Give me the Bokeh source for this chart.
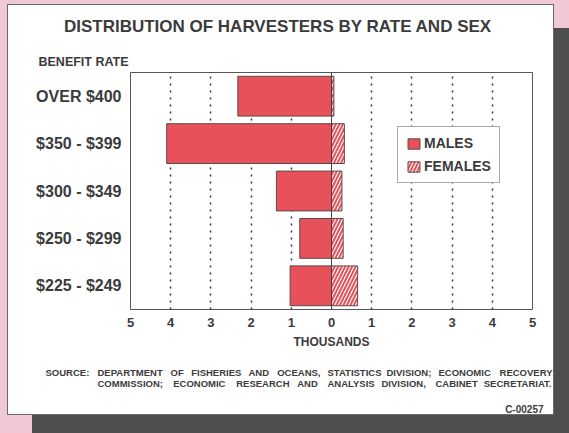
from bokeh.plotting import figure
from bokeh.models import (FactorRange, Range1d, FixedTicker, Span, Legend, LegendItem,
                          ColumnDataSource, GlobalInlineStyleSheet, Spacer)
from bokeh.core.properties import value
from bokeh.embed import file_html
from bokeh.resources import INLINE

# ---------------- data ----------------
categories = ["OVER $400", "$350 - $399", "$300 - $349", "$250 - $299", "$225 - $249"]
males = [2.33, 4.10, 1.37, 0.79, 1.03]          # thousands
females = [0.06, 0.32, 0.26, 0.29, 0.65]        # thousands
x_ticks = [-5, -4, -3, -2, -1, 0, 1, 2, 3, 4, 5]
x_tick_labels = ["5", "4", "3", "2", "1", "0", "1", "2", "3", "4", "5"]
grid_ticks = [-4, -3, -2, -1, 1, 2, 3, 4]

title_text = "DISTRIBUTION OF HARVESTERS BY RATE AND SEX"
y_title = "BENEFIT  RATE"
x_title = "THOUSANDS"
source_label = "SOURCE:"
source_line1 = ["DEPARTMENT", "OF", "FISHERIES", "AND", "OCEANS,", "STATISTICS",
                "DIVISION;", "ECONOMIC", "RECOVERY"]
source_line2 = ["COMMISSION;", "ECONOMIC", "RESEARCH", "AND", "ANALYSIS", "DIVISION,",
                "CABINET", "SECRETARIAT."]
chart_id = "C-00257"

# ---------------- style ----------------
FONT = "Liberation Sans"
TXT = "#3b3b3b"
RED = "#e8505a"
EDGE = "#5a4c4c"
PINK = "#f0c8d6"
SHADOW = "#4c4f4e"
CARD_L, CARD_T, CARD_W, CARD_H = 8, 5, 545, 409


def place(left, top):
    return {"position": "absolute", "left": "%dpx" % left, "top": "%dpx" % top}


# card with drop shadow (behind everything)
card = Spacer(width=CARD_W, height=CARD_H,
              styles=dict(place(CARD_L, CARD_T),
                          **{"background-color": "white",
                             "outline": "1px solid #6a6a6a",
                             "box-shadow": "22px 21px 0 -2px %s" % SHADOW}))
card.stylesheets = [GlobalInlineStyleSheet(
    css="html, body {margin:0 !important; padding:0; overflow:hidden; background:%s;}" % PINK)]


def text_panel(height, y_top):
    f = figure(width=CARD_W, height=height, x_range=Range1d(CARD_L, CARD_L + CARD_W),
               y_range=Range1d(y_top + height, y_top), x_axis_type=None, y_axis_type=None,
               output_backend="svg", toolbar_location=None, min_border=0,
               min_border_left=0, min_border_right=0, min_border_top=0, min_border_bottom=0)
    f.outline_line_color = None
    f.background_fill_color = None
    f.border_fill_color = None
    f.title.visible = False
    f.styles = place(CARD_L, y_top)
    return f


def put(f, words, xs, ys, size, align):
    src = ColumnDataSource(dict(x=xs, y=ys, t=words))
    f.text(x="x", y="y", text="t", source=src, text_font=value(FONT),
           text_font_style="bold", text_font_size=value(size), text_color=TXT,
           text_align=align, text_baseline="alphabetic")


# ---------------- header ----------------
head = text_panel(66, 5)
put(head, [title_text], [277.5], [25.8], "17px", "center")
put(head, [y_title], [38], [61.4], "12.5px", "left")

# ---------------- main chart ----------------
p = figure(width=CARD_W, height=288,
           y_range=FactorRange(factors=categories[::-1]),
           x_range=Range1d(-5, 5),
           output_backend="svg", toolbar_location=None,
           min_border_left=122, min_border_right=21,
           min_border_top=5, min_border_bottom=46)
p.styles = place(CARD_L, 67)
p.title.visible = False
p.border_fill_color = None
p.background_fill_color = "white"
p.outline_line_color = "#555555"
p.outline_line_width = 1

src_m = ColumnDataSource(dict(y=categories, left=[-v for v in males], right=[0] * len(males)))
src_f = ColumnDataSource(dict(y=categories, left=[0] * len(females), right=females))
rm = p.hbar(y="y", left="left", right="right", height=0.84, source=src_m,
            fill_color=RED, line_color=EDGE, line_width=1)
rf = p.hbar(y="y", left="left", right="right", height=0.84, source=src_f,
            fill_color="white", line_color=EDGE, line_width=1,
            hatch_pattern="/", hatch_color=RED, hatch_weight=2, hatch_scale=7)

p.add_layout(Span(location=0, dimension="height", line_color="#444444", line_width=1))

p.ygrid.grid_line_color = None
p.xgrid.ticker = FixedTicker(ticks=grid_ticks)
p.xgrid.grid_line_color = "#333333"
p.xgrid.grid_line_dash = "2 5"
p.xgrid.grid_line_width = 1.5

xa = p.xaxis[0]
xa.ticker = FixedTicker(ticks=x_ticks)
xa.major_label_overrides = dict(zip(x_ticks, x_tick_labels))
xa.axis_line_color = None
xa.major_tick_line_color = None
xa.minor_tick_line_color = None
xa.major_label_standoff = 2
xa.major_label_text_font = FONT
xa.major_label_text_font_style = "bold"
xa.major_label_text_font_size = "13px"
xa.major_label_text_color = TXT
xa.axis_label = x_title
xa.axis_label_text_font = FONT
xa.axis_label_text_font_style = "bold"
xa.axis_label_text_font_size = "12px"
xa.axis_label_text_color = TXT
xa.axis_label_standoff = 5

ya = p.yaxis[0]
ya.axis_line_color = None
ya.major_tick_line_color = None
ya.minor_tick_line_color = None
ya.major_label_standoff = 3
ya.major_label_text_font = FONT
ya.major_label_text_font_style = "bold"
ya.major_label_text_font_size = "16px"
ya.major_label_text_color = TXT

legend = Legend(items=[LegendItem(label="MALES", renderers=[rm]),
                       LegendItem(label="FEMALES", renderers=[rf])],
                location=(267, 126), padding=8, spacing=7, margin=0,
                glyph_width=15, glyph_height=13, label_standoff=3, label_height=16,
                label_text_font=FONT, label_text_font_style="bold",
                label_text_font_size="14px", label_text_color=TXT,
                border_line_color="#555555", border_line_width=1,
                background_fill_color="white", background_fill_alpha=1)
p.add_layout(legend)

# ---------------- footer ----------------
foot = text_panel(66, 355)
put(foot, [source_label], [45], [371.6], "9.5px", "left")
line1_x = [97, 170, 190.7, 248, 276.7, 327, 386, 438]
put(foot, source_line1[:-1], line1_x, [371.6] * len(line1_x), "9.5px", "left")
put(foot, [source_line1[-1]], [552], [371.6], "9.5px", "right")
line2_x = [97, 172.7, 235.7, 296.7, 327, 381, 435]
put(foot, source_line2[:-1], line2_x, [382.6] * len(line2_x), "9.5px", "left")
put(foot, [source_line2[-1]], [551], [382.6], "9.5px", "right")
put(foot, [chart_id], [543], [409.3], "10px", "right")

open("out.html", "w").write(file_html([card, head, p, foot], INLINE))
